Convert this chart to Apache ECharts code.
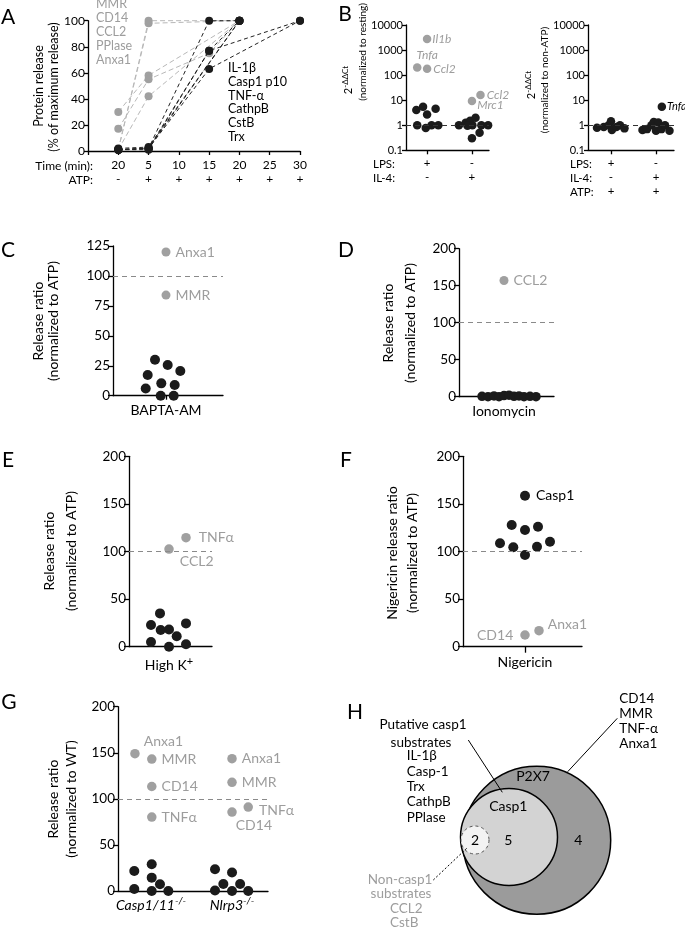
<!DOCTYPE html>
<html><head><meta charset="utf-8">
<script src="https://cdn.jsdelivr.net/npm/echarts@6/dist/echarts.min.js"></script>
<style>html,body{margin:0;padding:0;background:#fff}#c{width:685px;height:932px}</style>
</head><body><div id="c"></div>
<script>
// ================= DATA =================
// Panel A: time course (x index 1..7 -> timeLabels)
const timeLabels = ['20','5','10','15','20','25','30'];
const atpLabels  = ['-','+','+','+','+','+','+'];
const grayProteinsA  = ['MMR','CD14','CCL2','PPlase','Anxa1'];
const blackProteinsA = ['IL-1β','Casp1 p10','TNF-α','CathpB','CstB','Trx'];
const aGrayTimes  = [[1,2,5],[1,2,5],[1,2,5],[1,2,4,5],[1,2,5]];
const aGrayValues = [[1,100,100],[1,98,100],[30,58,100],[17,55,75,100],[1,42,100]];
const aBlackTimes  = [[1,2,4,5],[1,2,4,7],[1,2,4,7],[1,2,5],[1,2,5],[1,2,4,5]];
const aBlackValues = [[1,2,100,100],[1,2,77,100],[1,2,63,100],[1,2,100],[2,3,100],[1,1,77,100]];
const aMarkerTime = 3; // vertical line at 10 min

// Panel B left (normalized to resting)
const bLeftRows = {LPS:['+','-'], 'IL-4':['-','+']};
const bLeftBlackGroup  = [0,0,0,0,0,0,0,0, 1,1,1,1,1,1,1,1,1,1];
const bLeftBlackOffset = [-0.24,-0.09,0,0.19,-0.22,-0.03,0.1,0.25, -0.29,-0.14,-0.04,0.08,0.01,-0.1,0.21,0.36,0.17,0];
const bLeftBlackValue  = [4.1,5.5,2.7,4.6,1,0.78,1,1, 1,1.25,1.5,2,1,0.95,1,1,0.5,0.3];
const bLeftGrayNames  = ['Il1b','Tnfa','Ccl2','Ccl2','Mrc1'];
const bLeftGrayGroup  = [0,0,0,1,1];
const bLeftGrayOffset = [0,-0.22,0,0.19,0];
const bLeftGrayValue  = [2750,200,178,16,9.3];

// Panel B right (normalized to non-ATP)
const bRightRows = {LPS:['+','-'], 'IL-4':['-','+'], ATP:['+','+']};
const bRightBlackGroup  = [0,0,0,0,0,0,0,0, 1,1,1,1,1,1,1,1,1,1];
const bRightBlackOffset = [-0.31,-0.16,-0.05,0,0.02,0.12,0.2,0.3, -0.3,-0.2,-0.1,-0.05,0,0.05,0.12,0.2,0.3,0.13];
const bRightBlackValue  = [0.8,0.85,1.0,1.45,0.65,0.85,1.0,0.75, 0.65,0.7,1.0,1.35,0.6,1.3,0.7,1.0,0.6,5.5];
const bRightBlackNames  = ['','','','','','','','', '','','','','','','','','','Tnfa'];

// Panel C (BAPTA-AM)
const cCats = ['BAPTA-AM'];
const cBlackOffset = [-0.11,0.017,0.143,-0.183,-0.047,0.087,-0.203,-0.053,0.077];
const cBlackValue  = [30,25.6,20.6,17.3,10.3,9,6,0,0];
const cGrayNames  = ['Anxa1','MMR'];
const cGrayOffset = [0,0];
const cGrayValue  = [120,84];

// Panel D (Ionomycin)
const dCats = ['Ionomycin'];
const dBlackOffset = [-0.22,-0.16,-0.1,-0.05,0,0.05,0.1,0.15,0.2,0.26,0.32];
const dBlackValue  = [0.5,0,1,0,1.5,2,0.5,1,0,0.5,0];
const dGrayNames  = ['CCL2'];
const dGrayOffset = [0];
const dGrayValue  = [157];

// Panel E (High K+)
const eCats = ['High K'];
const eBlackOffset = [-0.09,-0.18,-0.083,0,0.17,-0.18,0.077,0,0.17];
const eBlackValue  = [35,22.8,17.5,18,24.5,5,11,0,2.5];
const eGrayNames  = ['CCL2','TNFα'];
const eGrayOffset = [0,0.17];
const eGrayValue  = [102.6,114.5];

// Panel F (Nigericin)
const fCats = ['Nigericin'];
const fBlackNames  = ['Casp1','','','','','','','',''];
const fBlackOffset = [0,-0.133,0,0.13,-0.25,-0.117,0.12,0.25,0];
const fBlackValue  = [158.6,127.8,122.6,126,108.6,104.4,105,110.3,96.3];
const fGrayNames  = ['CD14','Anxa1'];
const fGrayOffset = [0,0.14];
const fGrayValue  = [12.3,16.8];

// Panel G (knockouts)
const gCats   = ['Casp1/11','Nlrp3'];
const gCatSup = ['-/-','-/-'];
const gBlackGroup  = [0,0,0,0,0,0,0, 1,1,1,1,1,1,1];
const gBlackOffset = [-0.206,0.009,0.009,0.111,-0.206,0.009,0.214, -0.21,0,-0.107,0.1,-0.21,0,0.2];
const gBlackValue  = [21.7,29,14.5,7.3,2.2,0,0, 23.6,20,7.6,7.6,0.5,0,0];
const gGrayNames  = ['Anxa1','MMR','CD14','TNFα','Anxa1','MMR','CD14','TNFα'];
const gGrayGroup  = [0,0,0,0,1,1,1,1];
const gGrayOffset = [-0.198,0.01,0.01,0.01,0,0,0,0.2];
const gGrayValue  = [149,143.2,113.4,80.2,143.6,117.9,85.7,91.1];

// Panel H (Venn)
const vennSets   = ['P2X7','Casp1',''];
const vennCounts = [4,5,2];
const casp1Substrates = ['IL-1β','Casp-1','Trx','CathpB','PPlase'];
const p2x7Only = ['CD14','MMR','TNF-α','Anxa1'];
const nonCasp1 = ['CCL2','CstB'];

// ================= STYLE / BUILD =================
const FONT = 'Lato, "DejaVu Sans", sans-serif';
const BLACK = '#1b1b1b', GRAY = '#a0a0a0', GRAYTXT = '#9d9d9d';
const grids = [], xAxes = [], yAxes = [], series = [], graphics = [];

function axisLine(){ return {show:true, onZero:false, lineStyle:{color:'#000', width:1.3}}; }
function tick(len, custom){ const t = {show:true, length:len, lineStyle:{color:'#000', width:1.3}}; if (custom) t.customValues = custom; return t; }
function addPanel(box, xa, ya){
  grids.push(box);
  const i = grids.length - 1;
  xAxes.push(Object.assign({gridIndex:i, splitLine:{show:false}, axisLine:axisLine()}, xa));
  yAxes.push(Object.assign({gridIndex:i, splitLine:{show:false}, axisLine:axisLine()}, ya));
  return i;
}
function T(x, y, text, o){
  o = o || {};
  const st = {text:text, fill:o.color||'#000', fontSize:o.size||13, fontFamily:FONT,
    fontStyle:o.italic?'italic':'normal', align:o.align||'center', verticalAlign:'middle'};
  if (o.rich) st.rich = o.rich;
  return {type:'text', x:x, y:y, rotation:o.rot||0, silent:true, z:100, style:st};
}
function refLine(val, color){
  return {silent:true, symbol:'none', label:{show:false}, animation:false,
    lineStyle:{color:color||'#8a8a8a', type:[5,4], width:1}, data:[{yAxis:val}]};
}
function scatter(i, data, color, size, extra){
  return Object.assign({type:'scatter', xAxisIndex:i, yAxisIndex:i, data:data, symbolSize:size,
    itemStyle:{color:color, opacity:1}, clip:false, silent:true, z:3}, extra||{});
}
function lbl(name, o, color, size, italic){
  return Object.assign({show:true, formatter:name, position:'right', distance:4, color:color,
    fontSize:size||14, fontFamily:FONT, fontStyle:italic?'italic':'normal'}, o||{});
}
const yLab = (size) => ({fontFamily:FONT, fontSize:size, color:'#000', margin:3});
const logLab = () => ({fontFamily:FONT, fontSize:11, color:'#000', margin:3, formatter:v => String(v)});

// ---------- Panel A ----------
{
  const i = addPanel({left:88, top:20.7, width:212, height:130.3},
    {type:'value', min:0, max:7, interval:1, axisTick:tick(4),
     axisLabel:{fontFamily:FONT, fontSize:12, color:'#000', lineHeight:14, margin:7,
       formatter:v => v >= 1 ? timeLabels[v-1] + '\n' + atpLabels[v-1] : ''}},
    {type:'value', min:0, max:100, interval:20, axisTick:tick(4), axisLabel:yLab(12)});
  aGrayTimes.forEach((ts, k) => series.push({type:'line', xAxisIndex:i, yAxisIndex:i,
    data:ts.map((t, j) => [t, aGrayValues[k][j]]), symbol:'circle', symbolSize:8, clip:false, silent:true, z:2,
    itemStyle:{color:GRAY}, lineStyle:{color:'#b8b8b8', width:1, type:[5,3]}}));
  aBlackTimes.forEach((ts, k) => series.push({type:'line', xAxisIndex:i, yAxisIndex:i,
    data:ts.map((t, j) => [t, aBlackValues[k][j]]), symbol:'circle', symbolSize:8, clip:false, silent:true, z:4,
    itemStyle:{color:BLACK}, lineStyle:{color:'#222', width:1, type:[4,3]}}));
  series.push({type:'scatter', xAxisIndex:i, yAxisIndex:i, data:[], clip:false,
    markLine:{silent:true, symbol:'none', label:{show:false}, lineStyle:{color:'#000', type:'solid', width:1},
      data:[[{coord:[aMarkerTime,0]},{coord:[aMarkerTime,108]}]]}});
  grayProteinsA.forEach((n, k) => graphics.push(T(96, 4 + 14*k, n, {align:'left', size:12.5, color:GRAYTXT})));
  blackProteinsA.forEach((n, k) => graphics.push(T(228, 68 + 13.8*k, n, {align:'left', size:12.5})));
  graphics.push(T(93, 166, 'Time (min):', {align:'right', size:12}));
  graphics.push(T(93, 180, 'ATP:', {align:'right', size:12}));
  graphics.push(T(39, 86, 'Protein release', {rot:Math.PI/2, size:12.5}));
  graphics.push(T(54, 87, '(% of maximum release)', {rot:Math.PI/2, size:12.5}));
  graphics.push(T(8, 17, 'A', {size:21}));
}

const supRich = {n:{fontSize:11, fontFamily:FONT, fill:'#000'}, s:{fontSize:8, fontFamily:FONT, fill:'#000', verticalAlign:'top', padding:[0,0,6,0]}};

// ---------- Panel B left ----------
{
  const i = addPanel({left:406, top:25, width:83, height:125.3},
    {type:'value', min:-0.47, max:1.38, axisTick:tick(4,[0,1]),
     axisLabel:{customValues:[0,1], fontFamily:FONT, fontSize:11.5, color:'#000', lineHeight:14, margin:6,
       formatter:v => bLeftRows.LPS[v] + '\n' + bLeftRows['IL-4'][v]}},
    {type:'log', logBase:10, min:0.1, max:10000, axisTick:tick(4), axisLabel:logLab()});
  series.push(scatter(i, bLeftBlackValue.map((v, k) => [bLeftBlackGroup[k] + bLeftBlackOffset[k], v]), BLACK, 8.5,
    {markLine:refLine(1, '#333')}));
  const pos = [
    {position:'right', distance:1, offset:[0,0]},
    {position:'top', distance:2, offset:[10,0]},
    {position:'right', distance:2, offset:[0,0]},
    {position:'right', distance:2, offset:[0,0]},
    {position:'right', distance:1, offset:[0,4]}];
  series.push(scatter(i, bLeftGrayValue.map((v, k) => ({value:[bLeftGrayGroup[k] + bLeftGrayOffset[k], v],
    label:lbl(bLeftGrayNames[k], pos[k], GRAYTXT, 12, true)})), GRAY, 8.5));
  graphics.push(T(373, 164, 'LPS:', {align:'left', size:11.5}));
  graphics.push(T(373, 178, 'IL-4:', {align:'left', size:11.5}));
  graphics.push(T(348, 80, '{n|2}{s|-ΔΔCt}', {rot:Math.PI/2, rich:supRich}));
  graphics.push(T(363, 52, '(normalized to resting)', {rot:Math.PI/2, size:10}));
  graphics.push(T(345, 14, 'B', {size:21}));
}

// ---------- Panel B right ----------
{
  const i = addPanel({left:588, top:25, width:86, height:125.3},
    {type:'value', min:-0.51, max:1.4, axisTick:tick(4,[0,1]),
     axisLabel:{customValues:[0,1], fontFamily:FONT, fontSize:11.5, color:'#000', lineHeight:14, margin:6,
       formatter:v => bRightRows.LPS[v] + '\n' + bRightRows['IL-4'][v] + '\n' + bRightRows.ATP[v]}},
    {type:'log', logBase:10, min:0.1, max:10000, axisTick:tick(4), axisLabel:logLab()});
  series.push(scatter(i, bRightBlackValue.map((v, k) => {
    const d = {value:[bRightBlackGroup[k] + bRightBlackOffset[k], v]};
    if (bRightBlackNames[k]) d.label = lbl(bRightBlackNames[k], {distance:1}, '#000', 11, true);
    return d;
  }), BLACK, 8.5, {markLine:refLine(1, '#333')}));
  graphics.push(T(570, 164, 'LPS:', {align:'left', size:11.5}));
  graphics.push(T(570, 178, 'IL-4:', {align:'left', size:11.5}));
  graphics.push(T(570, 192, 'ATP:', {align:'left', size:11.5}));
  graphics.push(T(531, 85, '{n|2}{s|-ΔΔCt}', {rot:Math.PI/2, rich:supRich}));
  graphics.push(T(545, 80, '(normalized to non-ATP)', {rot:Math.PI/2, size:10}));
}

// ---------- Panel C ----------
{
  const i = addPanel({left:113, top:246, width:110, height:149.7},
    {type:'value', min:-0.53, max:0.57, axisTick:tick(4,[0]),
     axisLabel:{customValues:[0], fontFamily:FONT, fontSize:14, color:'#000', margin:8, formatter:() => cCats[0]}},
    {type:'value', min:0, max:125, interval:25, axisTick:tick(5), axisLabel:yLab(13.5)});
  series.push(scatter(i, cBlackValue.map((v, k) => [cBlackOffset[k], v]), BLACK, 10, {markLine:refLine(100)}));
  series.push(scatter(i, cGrayValue.map((v, k) => ({value:[cGrayOffset[k], v], label:lbl(cGrayNames[k], {distance:5}, GRAYTXT, 14)})), GRAY, 9));
  graphics.push(T(38, 321, 'Release ratio', {rot:Math.PI/2, size:14}));
  graphics.push(T(53, 321, '(normalized to ATP)', {rot:Math.PI/2, size:14}));
  graphics.push(T(8, 250, 'C', {size:21}));
}

// ---------- Panel D ----------
{
  const i = addPanel({left:459, top:248.7, width:95, height:148},
    {type:'value', min:-0.45, max:0.5, axisTick:{show:false},
     axisLabel:{customValues:[0], fontFamily:FONT, fontSize:14, color:'#000', margin:8, formatter:() => dCats[0]}},
    {type:'value', min:0, max:200, interval:50, axisTick:tick(5), axisLabel:yLab(13.5)});
  series.push(scatter(i, dBlackValue.map((v, k) => [dBlackOffset[k], v]), BLACK, 9.5, {markLine:refLine(100)}));
  series.push(scatter(i, dGrayValue.map((v, k) => ({value:[dGrayOffset[k], v], label:lbl(dGrayNames[k], {distance:5}, GRAYTXT, 14)})), GRAY, 9));
  graphics.push(T(388, 323, 'Release ratio', {rot:Math.PI/2, size:14}));
  graphics.push(T(410, 323, '(normalized to ATP)', {rot:Math.PI/2, size:14}));
  graphics.push(T(346, 250, 'D', {size:21}));
}

// ---------- Panel E ----------
{
  const i = addPanel({left:129, top:456.3, width:83, height:190.4},
    {type:'value', min:-0.40, max:0.43, axisTick:tick(4,[0]),
     axisLabel:{customValues:[0], fontFamily:FONT, fontSize:14, color:'#000', margin:9,
       formatter:() => '{n|' + eCats[0] + '}{s|+}',
       rich:{n:{fontFamily:FONT, fontSize:14, color:'#000'}, s:{fontFamily:FONT, fontSize:11, color:'#000', verticalAlign:'top', padding:[0,0,8,0]}}}},
    {type:'value', min:0, max:200, interval:50, axisTick:tick(5), axisLabel:yLab(13.5)});
  series.push(scatter(i, eBlackValue.map((v, k) => [eBlackOffset[k], v]), BLACK, 10, {markLine:refLine(100)}));
  const pos = [{position:'right', distance:0, offset:[6,12]}, {position:'right', distance:8}];
  series.push(scatter(i, eGrayValue.map((v, k) => ({value:[eGrayOffset[k], v], label:lbl(eGrayNames[k], pos[k], GRAYTXT, 14)})), GRAY, 9.5));
  graphics.push(T(49, 551, 'Release ratio', {rot:Math.PI/2, size:14}));
  graphics.push(T(71, 551, '(normalized to ATP)', {rot:Math.PI/2, size:14}));
  graphics.push(T(8, 460, 'E', {size:21}));
}

// ---------- Panel F ----------
{
  const i = addPanel({left:463, top:456.3, width:119, height:190.4},
    {type:'value', min:-0.62, max:0.57, axisTick:tick(6,[0]),
     axisLabel:{customValues:[0], fontFamily:FONT, fontSize:14, color:'#000', margin:9, formatter:() => fCats[0]}},
    {type:'value', min:0, max:200, interval:50, axisTick:tick(5), axisLabel:yLab(13.5)});
  series.push(scatter(i, fBlackValue.map((v, k) => {
    const d = {value:[fBlackOffset[k], v]};
    if (fBlackNames[k]) d.label = lbl(fBlackNames[k], {distance:6}, '#000', 14);
    return d;
  }), BLACK, 10, {markLine:refLine(100)}));
  const pos = [{position:'left', distance:7}, {position:'right', distance:4, offset:[0,-6]}];
  series.push(scatter(i, fGrayValue.map((v, k) => ({value:[fGrayOffset[k], v], label:lbl(fGrayNames[k], pos[k], GRAYTXT, 14)})), GRAY, 9.5));
  graphics.push(T(392, 553, 'Nigericin release ratio', {rot:Math.PI/2, size:14}));
  graphics.push(T(412, 553, '(normalized to ATP)', {rot:Math.PI/2, size:14}));
  graphics.push(T(346, 460, 'F', {size:21}));
}

// ---------- Panel G ----------
{
  const i = addPanel({left:118, top:706.7, width:150, height:184.3},
    {type:'value', min:-0.407, max:1.444, axisTick:{show:false},
     axisLabel:{customValues:[0,1], margin:5,
       formatter:v => '{n|' + gCats[v] + '}{s|' + gCatSup[v] + '}',
       rich:{n:{fontFamily:FONT, fontSize:14, fontStyle:'italic', color:'#000'},
             s:{fontFamily:FONT, fontSize:10, fontStyle:'italic', color:'#000', verticalAlign:'top', padding:[0,0,8,0]}}}},
    {type:'value', min:0, max:200, interval:50, axisTick:tick(5), axisLabel:yLab(13.5)});
  series.push(scatter(i, gBlackValue.map((v, k) => [gBlackGroup[k] + gBlackOffset[k], v]), BLACK, 10, {markLine:refLine(100)}));
  const pos = [
    {position:'right', distance:0, offset:[4,-12]},
    {position:'right', distance:5}, {position:'right', distance:5}, {position:'right', distance:5},
    {position:'right', distance:5}, {position:'right', distance:5},
    {position:'right', distance:0, offset:[-1,13]},
    {position:'right', distance:6, offset:[0,3]}];
  series.push(scatter(i, gGrayValue.map((v, k) => ({value:[gGrayGroup[k] + gGrayOffset[k], v], label:lbl(gGrayNames[k], pos[k], GRAYTXT, 14)})), GRAY, 9.5));
  graphics.push(T(53, 799, 'Release ratio', {rot:Math.PI/2, size:14}));
  graphics.push(T(71, 799, '(normalized to WT)', {rot:Math.PI/2, size:14}));
  graphics.push(T(9, 702, 'G', {size:21}));
}

// ---------- Panel H (Venn) ----------
{
  grids.push({left:340, top:680, width:345, height:252});
  const i = grids.length - 1;
  xAxes.push({gridIndex:i, type:'value', min:0, max:345, show:false});
  yAxes.push({gridIndex:i, type:'value', min:0, max:252, inverse:true, show:false});
  // diagram layout of circles: [cx, cy, r, countX, countY, nameX, nameY]
  const geom = [[196.7,160.3,74, 238.3,160, 193,96.7],
                [169,157,48.5, 168.3,160, 168.3,126],
                [135,160,14, 135,160, 0,0]];
  const fills = ['#9b9b9b','#d3d3d3','#f3f3f3'];
  series.push({type:'custom', xAxisIndex:i, yAxisIndex:i, silent:true, clip:false,
    data:geom.map((g, k) => g.concat([k])),
    renderItem:(params, api) => {
      const k = api.value(7);
      const c = api.coord([api.value(0), api.value(1)]);
      const r = api.size([api.value(2), 0])[0];
      const cp = api.coord([api.value(3), api.value(4)]);
      const np = api.coord([api.value(5), api.value(6)]);
      const kids = [{type:'circle', shape:{cx:c[0], cy:c[1], r:r},
        style:{fill:fills[k], stroke: k===2 ? '#555' : '#000', lineWidth: k===2 ? 1 : 1.5, lineDash: k===2 ? [3,3] : null}},
        {type:'text', x:cp[0], y:cp[1], style:{text:String(vennCounts[k]), fontSize:14, fontFamily:FONT, fill:'#000', align:'center', verticalAlign:'middle'}}];
      if (vennSets[k]) kids.push({type:'text', x:np[0], y:np[1], style:{text:vennSets[k], fontSize:14, fontFamily:FONT, fill:'#000', align:'center', verticalAlign:'middle'}});
      return {type:'group', children:kids};
    }});
  graphics.push(T(355, 712, 'H', {size:21}));
  graphics.push(T(423, 725, 'Putative casp1', {size:13.5}));
  graphics.push(T(421, 742.7, 'substrates', {size:13.5}));
  casp1Substrates.forEach((n, k) => graphics.push(T(406.7, 756 + 15.3*k, n, {align:'left', size:13.5})));
  p2x7Only.forEach((n, k) => graphics.push(T(619.3, 699 + 14.8*k, n, {align:'left', size:13.5})));
  graphics.push(T(400, 879.3, 'Non-casp1', {size:13.5, color:GRAYTXT}));
  graphics.push(T(401, 893.3, 'substrates', {size:13.5, color:GRAYTXT}));
  nonCasp1.forEach((n, k) => graphics.push(T(390, 908.3 + 14.4*k, n, {align:'left', size:13.5, color:GRAYTXT})));
  graphics.push({type:'line', silent:true, z:100, shape:{x1:468.3, y1:740, x2:502.3, y2:792.3}, style:{stroke:'#000', lineWidth:1}});
  graphics.push({type:'line', silent:true, z:100, shape:{x1:617.3, y1:718.3, x2:567.7, y2:771.7}, style:{stroke:'#000', lineWidth:1}});
  graphics.push({type:'line', silent:true, z:100, shape:{x1:433.3, y1:880, x2:466.7, y2:848.3}, style:{stroke:'#000', lineWidth:1, lineDash:[2,2]}});
}

const chart = echarts.init(document.getElementById('c'), null, {renderer:'canvas', width:685, height:932});
chart.setOption({
  animation:false, backgroundColor:'#fff',
  textStyle:{fontFamily:FONT},
  grid:grids, xAxis:xAxes, yAxis:yAxes, series:series, graphic:graphics
});
</script></body></html>
